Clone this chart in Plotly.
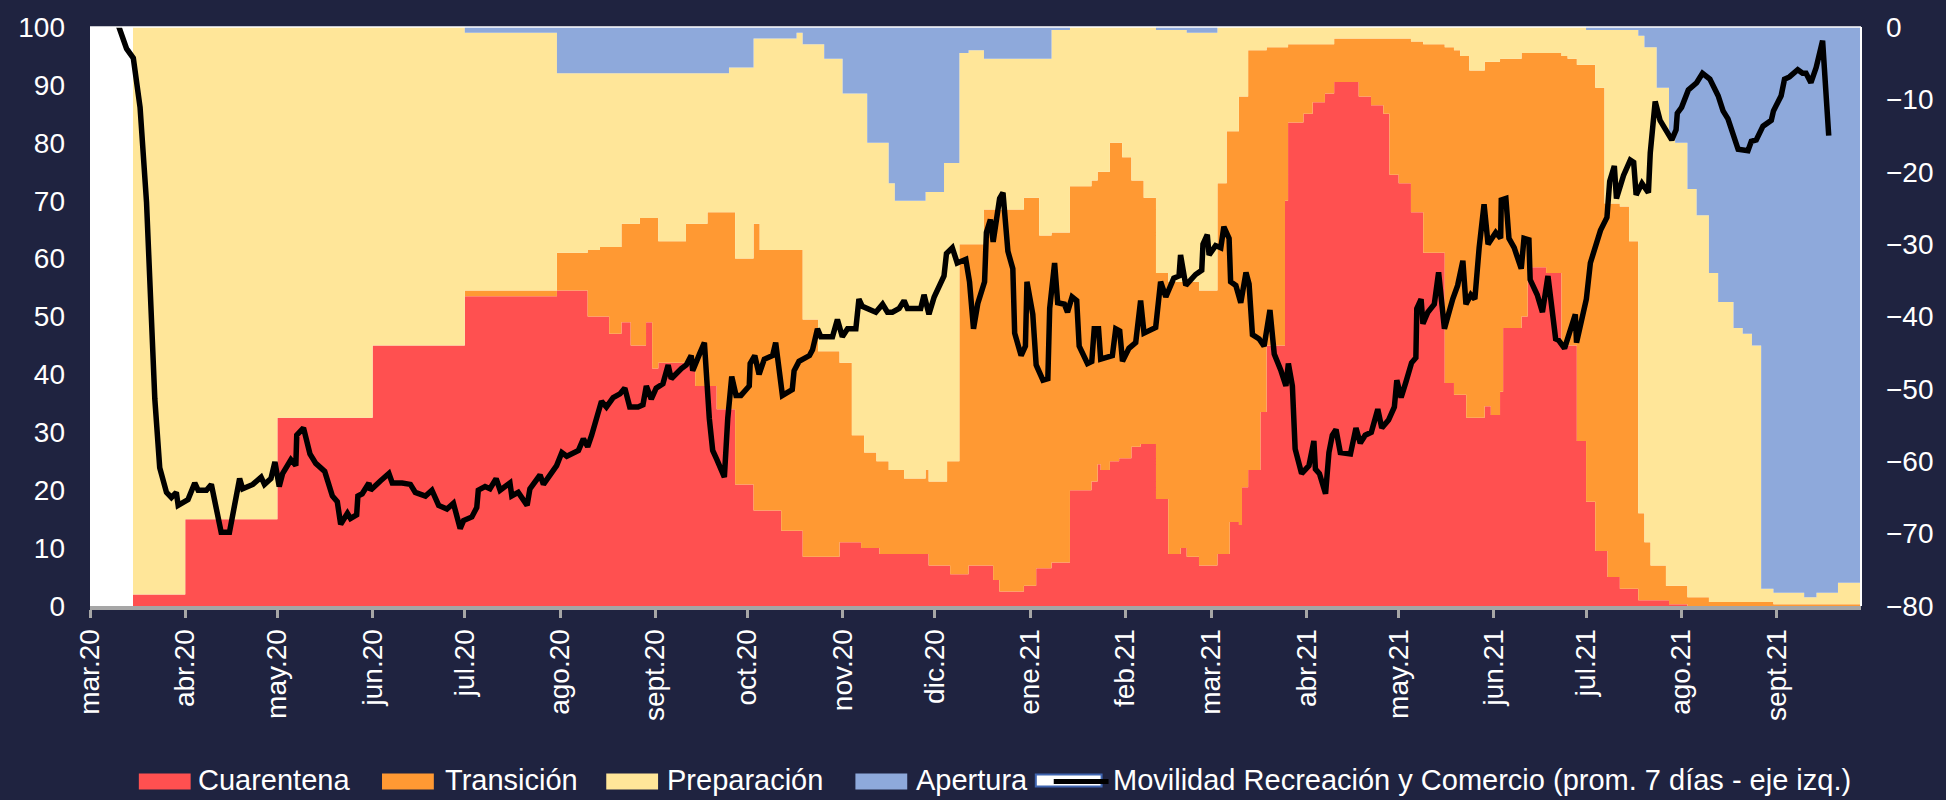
import plotly.graph_objects as go
import pandas as pd

BASE = pd.Timestamp("2020-03-01")

# ---- Phase shares (% of population), step values starting at each day offset from BASE ----
phase_days = [14, 31, 61, 92, 122, 152, 162, 166, 169, 173, 176, 179, 181, 183, 185, 194, 197, 201, 204,
              208, 210, 216, 218, 225, 230, 232, 237, 239, 244, 245, 248, 251, 252, 253, 256, 257, 260,
              262, 265, 272, 273, 278, 279, 280, 283, 286, 291, 294, 296, 304, 308, 309, 313, 319, 326,
              328, 329, 332, 335, 336, 339, 342, 343, 347, 351, 355, 357, 361, 367, 370, 371, 374, 375,
              377, 381, 383, 389, 390, 395, 398, 402, 405, 413, 417, 421, 423, 426, 430, 434, 441, 444,
              446, 448, 449, 454, 456, 459, 460, 466, 468, 474, 479, 481, 484, 487, 490, 493, 494, 498,
              501, 504, 506, 508, 510, 513, 514, 516, 520, 523, 527, 530, 535, 538, 541, 544, 548, 558,
              562, 569, 576.5]

cuarentena = [2, 15, 32.5, 45, 53.5, 54.5, 50, 50, 47, 49, 45, 45, 49, 41, 42, 42, 38, 38, 34,
              34, 21, 16.5, 16.5, 13, 13, 8.5, 8.5, 8.5, 11, 11, 11, 10, 10, 10, 10, 9, 9,
              9, 9, 9, 7, 7, 7, 5.5, 5.5, 7, 7, 4.5, 2.5, 3.5, 6.5, 6.5, 7.5, 20, 21.5,
              24.5, 23.5, 25, 25.5, 25.5, 27.5, 28, 28, 18.5, 9, 10, 8.5, 7, 9, 9, 14.5, 14, 20.5,
              23.5, 33.5, 45, 70, 83.5, 85, 87, 88.5, 90.5, 88, 86.5, 85, 74.5, 73, 68, 61, 38.5, 36.5,
              36.5, 32.5, 32.5, 34.5, 33, 37, 48, 50, 58.5, 57.5, 45, 45, 28.5, 18, 9.5, 9.5, 5, 3,
              3, 1, 1, 1, 1, 1, 0.3, 0.3, 0, 0, 0, 0, 0, 0, 0, 0, 0, 0,
              0, 0, 0]

transicion = [0, 0, 0, 0, 1, 6.5, 11.5, 12, 15, 17, 21, 22, 18, 26, 21, 24, 28, 30, 34,
              34, 39, 49.5, 45, 48.5, 48.5, 41, 35.5, 35.5, 31, 31, 18.5, 19.5, 16.5, 16.5, 15, 16, 14.5,
              14.5, 13, 14.5, 14.5, 14.5, 18, 19.5, 57, 55.5, 61.5, 64, 66, 67, 64, 57.5, 57, 52.5, 52,
              50.5, 51.5, 55, 54.5, 52, 46, 45.5, 42.5, 39, 47, 46, 47.5, 47.5, 64, 73, 67.5, 74, 67.5,
              72.5, 62.5, 51.5, 26.5, 13.5, 12, 10, 8.5, 7.5, 10, 11.5, 13, 23.5, 25, 29.5, 36, 58, 59.5,
              58.5, 62.5, 60, 59.5, 61, 57.5, 46.5, 45.5, 37, 38, 50, 49.5, 65, 75.5, 80, 60, 64.5, 66,
              60, 15, 10, 6, 6, 2.5, 3.2, 3.2, 1.5, 1.5, 0.7, 0.7, 0.7, 0.7, 0.7, 0.7, 0.3, 0.3,
              0.3, 0.3, 0.3]

preparacion = [98, 85, 67.5, 55, 44.5, 31, 30.5, 30, 30, 26, 26, 25, 25, 25, 29, 26, 26, 24, 24,
               25, 33, 32, 36.5, 36.5, 37.5, 47.5, 53, 50.5, 52.5, 46.5, 59, 59, 62, 53.5, 55, 55, 49.5,
               46.5, 48, 48, 50, 55, 51.5, 51.5, 33, 33.5, 26, 26, 26, 24, 24, 30.5, 35, 27.5, 26.5,
               25, 25, 20, 20, 22.5, 26.5, 26.5, 29.5, 42, 43.5, 43.5, 43, 44.5, 27, 18, 18, 12, 12,
               4, 4, 3.5, 3.5, 3, 3, 3, 3, 2, 2, 2, 2, 2, 2, 2.5, 3, 3.5, 4,
               5, 5, 7.5, 6, 6, 5.5, 5.5, 4.5, 4.5, 4.5, 5, 5.5, 6.5, 6, 10, 30, 30, 30.5,
               36.5, 82.5, 85.5, 89.5, 82.5, 86, 77.5, 76.5, 70.5, 66, 56.8, 51.8, 47.3, 46.3, 44.3, 2.3, 2, 1.2,
               2, 3.7, 3.7]

apertura = [0, 0, 0, 0, 1, 8, 8, 8, 8, 8, 8, 8, 8, 8, 8, 8, 8, 8, 8,
            7, 7, 2, 2, 2, 1, 3, 3, 5.5, 5.5, 11.5, 11.5, 11.5, 11.5, 20, 20, 20, 27,
            30, 30, 28.5, 28.5, 23.5, 23.5, 23.5, 4.5, 4, 5.5, 5.5, 5.5, 5.5, 5.5, 5.5, 0.5, 0, 0,
            0, 0, 0, 0, 0, 0, 0, 0, 0.5, 0.5, 0.5, 1, 1, 0, 0, 0, 0, 0,
            0, 0, 0, 0, 0, 0, 0, 0, 0, 0, 0, 0, 0, 0, 0, 0, 0, 0,
            0, 0, 0, 0, 0, 0, 0, 0, 0, 0, 0, 0, 0, 0.5, 0.5, 0.5, 0.5, 0.5,
            0.5, 1.5, 3.5, 3.5, 10.5, 10.5, 19, 20, 28, 32.5, 42.5, 47.5, 52, 53, 55, 97, 97.7, 98.5,
            97.7, 96, 96]

# ---- Mobility (retail & recreation, 7-day avg, right axis) ----
mov_days = [0, 5, 9, 11.9, 14.1, 16.3, 18.4, 19.5, 21.1, 22.7, 24.9, 26.5, 28.1, 28.7, 31.9, 34.1, 35.2,
            37.9, 39.5, 42.7, 45.4, 48.7, 49.7, 53, 55.7, 56.8, 58.9, 60.2, 61.6, 62.7, 65.4, 67, 67.3,
            69.5, 71.6, 73.5, 76.4, 78.9, 80.5, 81.6, 83.8, 84.8, 86.8, 87.2, 88.6, 90.8, 91.3, 94.6,
            97.3, 98.4, 101.6, 104.3, 105.9, 109.2, 111.3, 113.5, 116.2, 118.3, 120.5, 121.6, 124.3,
            125.9, 126.4, 128.6, 130.2, 132.2, 133.5, 136.7, 137.3, 139.4, 142.3, 143.2, 146.5, 147.6,
            150.3, 151.9, 153.6, 155.2, 159, 160.6, 162, 163.3, 166.5, 168.1, 170.3, 172.5, 174.1,
            175.7, 178.4, 180, 181.1, 182.7, 184.3, 186.5, 188.2, 189.2, 192.5, 194.1, 195.7, 196.2,
            198.4, 200, 201.6, 202.7, 204.1, 206.5, 207.6, 208.9, 210.3, 211.9, 214.6, 214.9, 216.4,
            217.8, 219.5, 222.2, 223.2, 225.4, 228.6, 229.2, 230.8, 231.9, 234.2, 235.2, 236.8, 237.9,
            241.7, 243.3, 244.9, 246.6, 249.3, 250.3, 251.4, 255.8, 258, 259.6, 261.2, 263.4, 265,
            266.1, 270.4, 271.5, 273.1, 274.8, 276.4, 278, 278.8, 280.7, 282.3, 285.1, 286.3, 287.6,
            289, 291.2, 291.8, 293.1, 294, 295, 296.1, 297.2, 298.8, 300.4, 301, 303.1, 304.5, 305,
            306.9, 308, 310.2, 311.8, 312.4, 314, 315, 317.2, 318.2, 319.7, 321.2, 322, 324.7, 326.1,
            326.9, 328.3, 329, 332.8, 333.9, 335.2, 336.1, 338.2, 340.4, 342, 343.1, 346.9, 348.5,
            350.2, 352.8, 354.5, 355, 356.7, 359.9, 361.9, 362.3, 363.7, 364.3, 366.4, 368.1, 369.1,
            370.8, 371.3, 373, 374.6, 376.3, 377.3, 378.4, 380.6, 382.2, 384.1, 385.5, 387.7, 389.3,
            390.1, 391.4, 392.3, 394.4, 396.8, 398.4, 398.9, 400.2, 402.2, 403.3, 404.4, 405.6, 407,
            410.3, 412.1, 413.5, 415.1, 417.1, 419.2, 420.5, 422.7, 424.6, 425.4, 426.8, 428.4, 430.2,
            431.6, 431.9, 433.3, 433.9, 435.5, 437.6, 439, 440.9, 443.6, 445.2, 446.9, 447.9, 449.5,
            450.8, 452.2, 453.8, 455.1, 457.6, 459.2, 459.4, 460.9, 461.9, 463.6, 465.9, 466.8, 468.4,
            468.8, 471.1, 472.8, 474.6, 477.1, 478.1, 480, 483.5, 483.9, 487.1, 488.4, 490.1, 491.7,
            493.8, 494.7, 496.2, 496.9, 499.2, 501.4, 502.5, 503.3, 505.2, 507.3, 507.9, 509.5, 511.1,
            512.7, 514.9, 516.3, 516.7, 518.1, 520.3, 523, 524.9, 527.3, 530, 531.6, 533.2, 536.5,
            539.7, 540.8, 542.4, 544.6, 547.3, 548, 550.5, 551.6, 553.2, 555.9, 557.5, 558.6, 560.2,
            561.9, 564, 566]

movilidad = [6, 4, 0.5, -3, -4.3, -11.1, -24.2, -35.7, -51.4, -60.9, -64.3, -65, -64.3, -66.1, -65.3, -63, -64,
             -64, -63.2, -69.8, -69.8, -62.4, -63.8, -63.2, -62.2, -63.2, -62.4, -60.1, -63.5, -61.7, -59.8, -60.6, -56.4,
             -55.4, -59, -60.3, -61.4, -64.8, -65.6, -68.7, -67.2, -67.9, -67.4, -64.8, -64.5, -63, -64, -62.7,
             -61.7, -63, -63, -63.2, -64.3, -64.8, -64, -66.1, -66.6, -65.8, -69.3, -68.2, -67.7,
             -66.4, -64, -63.5, -63.8, -62.4, -64, -63, -64.8, -64.3, -66.1, -63.8, -61.9, -63.2,
             -61.4, -60.6, -58.8, -59.3, -58.5, -56.9, -58, -56.4, -51.7, -52.5, -51.2, -50.7, -49.9,
             -52.5, -52.5, -52.2, -49.6, -51.4, -49.9, -49.3, -46.7, -48.6, -47.2, -46.7, -45.4, -47.5,
             -45.2, -43.6, -54.1, -58.5, -59.8, -62.2, -54.1, -48.3, -50.9, -50.9, -49.6, -46.5, -45.4,
             -48, -45.9, -45.4, -43.6, -50.9, -50.1, -47.5, -46.2, -45.9, -45.4, -44.6, -41.7, -42.8,
             -42.8, -40.4, -42.8, -41.7, -41.7, -37.6, -38.6, -39.4, -38.3, -39.4, -39.4, -38.9, -37.8,
             -38.9, -38.9, -37, -39.7, -37.3, -36, -34.4, -31.3, -30.5, -32.6, -32.1, -35.2, -41.7,
             -38.2, -35.2, -28.4, -26.6, -29.7, -27.1, -23.7, -22.9, -31, -33.4, -42.3, -45.4, -44.1, -35.2,
             -39.7, -46.7, -48.8, -48.6, -38.9, -32.6, -38.1, -38.3, -39.4, -37.3, -37.8, -44.1, -46.5, -46.2,
             -41.7, -41.7, -45.9, -45.4, -41.7, -42, -46.2, -44.4, -43.6, -37.8, -42.3, -41.5, -35.2,
             -37.3, -34.7, -34.4, -31.5, -35.7, -34.2, -33.6, -30, -28.7, -31.5, -30.2, -30.5, -27.6,
             -29.2, -35.2, -35.7, -38.1, -33.9, -35.5, -42.5, -43.1, -44.1, -39.1, -45.2, -47.5, -49.6,
             -46.5, -49.6, -58.3, -61.7, -60.6, -57.2, -61.1, -61.7, -64.5, -58.8, -56.4, -55.6, -58.8,
             -59, -55.4, -57.5, -56.4, -56, -52.8, -55.4, -54.3, -52.5, -48.8, -51.2, -49, -46.4,
             -45.7, -38.9, -37.6, -41, -39.4, -38.3, -33.9, -41.7, -37.6, -35.7, -32.3, -38.3, -37,
             -37.6, -30.5, -24.5, -30, -28.4, -29.2, -23.9, -23.7, -29.2, -30.5, -33.4, -29.2, -29.4,
             -34.9, -37, -39.4, -34.4, -43.1, -43.3, -44.4, -39.7, -43.6, -37.6, -32.6, -30.5, -28.1,
             -26.3, -21.3, -19.2, -23.7, -20.5, -18.4, -18.7, -23.2, -21.6, -22.9, -17.4, -10.3, -12.9,
             -14.2, -15.6, -14.2, -11.9, -11.1, -8.7, -7.7, -6.4, -7.2, -9.5, -11.6, -12.7, -16.9,
             -17.1, -15.8, -15.6, -13.7, -12.9, -11.6, -9.5, -7.2, -6.9, -5.9, -6.4, -6.4, -7.7,
             -5.6, -1.9, -15]

tick_dates = ["2020-03-01", "2020-04-01", "2020-05-01", "2020-06-01", "2020-07-01", "2020-08-01",
              "2020-09-01", "2020-10-01", "2020-11-01", "2020-12-01", "2021-01-01", "2021-02-01",
              "2021-03-01", "2021-04-01", "2021-05-01", "2021-06-01", "2021-07-01", "2021-08-01",
              "2021-09-01"]
tick_labels = ["mar.20", "abr.20", "may.20", "jun.20", "jul.20", "ago.20", "sept.20", "oct.20",
               "nov.20", "dic.20", "ene.21", "feb.21", "mar.21", "abr.21", "may.21", "jun.21",
               "jul.21", "ago.21", "sept.21"]

series_names = ["Cuarentena", "Transición", "Preparación", "Apertura"]
series_colors = ["#FF5050", "#FF9933", "#FFE699", "#8EA9DB"]
line_name = "Movilidad Recreación y Comercio (prom. 7 días - eje izq.)"

BG = "#1F2340"
FONT = "Liberation Sans, Arial, sans-serif"
W, H = 1946, 800
ML, MR, MT, MB = 90, 79, 22, 194
PW, PH = W - ML - MR, H - MT - MB

phase_x = BASE + pd.to_timedelta(phase_days, unit="D")
mov_x = BASE + pd.to_timedelta(mov_days, unit="D")

fig = go.Figure()
for name, vals, col in zip(series_names, [cuarentena, transicion, preparacion, apertura], series_colors):
    fig.add_trace(go.Scatter(x=phase_x, y=vals, name=name, stackgroup="fases", mode="lines",
                             line=dict(width=0, shape="hv", color=col), fillcolor=col,
                             showlegend=False, hoverinfo="skip"))

fig.add_trace(go.Scatter(x=mov_x, y=movilidad, name=line_name, yaxis="y2", mode="lines",
                         line=dict(color="black", width=5.5), showlegend=False))


def px_x(p):
    return (p - ML) / PW


def px_y(p):
    return (H - MB - p) / PH


shapes = []
annotations = []
legend_items = [(139, 191, 196, series_colors[0], series_names[0]),
                (383, 435, 444, series_colors[1], series_names[1]),
                (608, 660, 667, series_colors[2], series_names[2]),
                (858, 910, 917, series_colors[3], series_names[3])]
for x0, x1, tx, col, name in legend_items:
    shapes.append(dict(type="rect", xref="paper", yref="paper", x0=px_x(x0), x1=px_x(x1),
                       y0=px_y(791), y1=px_y(775), fillcolor=col, line=dict(width=0)))
    annotations.append(dict(text=name, xref="paper", yref="paper", x=px_x(tx), y=px_y(781),
                            xanchor="left", yanchor="middle", showarrow=False,
                            font=dict(size=29, color="white", family=FONT)))
# line legend symbol
shapes.append(dict(type="rect", xref="paper", yref="paper", x0=px_x(1039), x1=px_x(1105),
                   y0=px_y(788), y1=px_y(776), fillcolor="white", line=dict(width=2, color="#3E64B0")))
shapes.append(dict(type="line", xref="paper", yref="paper", x0=px_x(1057), x1=px_x(1112),
                   y0=px_y(783), y1=px_y(783), line=dict(width=5, color="black")))
annotations.append(dict(text=line_name, xref="paper", yref="paper", x=px_x(1114), y=px_y(781),
                        xanchor="left", yanchor="middle", showarrow=False,
                        font=dict(size=29, color="white", family=FONT)))
# thin white border top/right of plot area
shapes.append(dict(type="line", xref="paper", yref="paper", x0=0, x1=1, y0=1, y1=1,
                   line=dict(width=1.5, color="white")))
shapes.append(dict(type="line", xref="paper", yref="paper", x0=1, x1=1, y0=0, y1=1,
                   line=dict(width=2, color="white")))

fig.update_layout(
    width=W, height=H,
    margin=dict(l=ML, r=MR, t=MT, b=MB, pad=0),
    paper_bgcolor=BG, plot_bgcolor="white",
    font=dict(family=FONT, size=28, color="white"),
    showlegend=False,
    xaxis=dict(type="date", range=[BASE, BASE + pd.Timedelta(days=576.5)],
               tickmode="array", tickvals=tick_dates, ticktext=tick_labels, tickangle=-90,
               showgrid=False, zeroline=False, showline=True, linecolor="#A6A6A6", linewidth=4,
               ticks="outside", ticklen=8, tickwidth=3, tickcolor="#A6A6A6",
               tickfont=dict(size=28, color="white", family=FONT)),
    yaxis=dict(range=[0, 100], dtick=10, showgrid=False, zeroline=False, showline=False,
               ticks="", ticklabelstandoff=24,
               tickfont=dict(size=28, color="white", family=FONT)),
    yaxis2=dict(range=[-80, 0], dtick=10, overlaying="y", side="right", showgrid=False,
                zeroline=False, showline=False, ticks="", ticklabelstandoff=24,
                tickfont=dict(size=28, color="white", family=FONT)),
    shapes=shapes, annotations=annotations,
)

fig.write_html(
    "out.html",
    config={"displayModeBar": False},
    post_script="document.body.style.margin='0';document.body.style.padding='0';"
                "document.body.style.background='" + BG + "';",
)
